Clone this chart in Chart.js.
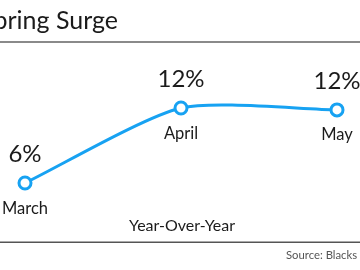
<!DOCTYPE html>
<html>
<head>
<meta charset="utf-8">
<script src="https://cdn.jsdelivr.net/npm/chart.js@4"></script>
<style>
html,body{margin:0;padding:0;background:#fff;overflow:hidden;}
canvas{display:block;}
</style>
</head>
<body>
<canvas id="c" width="360" height="270"></canvas>
<script>
const title = "Spring Surge";
const categories = ["March", "April", "May"];
const values = [6, 12, 11.85];
const valueLabels = ["6%", "12%", "12%"];
const axisNote = "Year-Over-Year";
const source = "Source: Blacks Research";

const ink = "#1b1b1b";
const blue = "#17a2f2";

const decor = {
  id: "decor",
  afterDatasetsDraw(chart) {
    const ctx = chart.ctx;
    const xs = chart.scales.x, ys = chart.scales.y;
    ctx.save();
    ctx.fillStyle = ink;
    ctx.font = "25px Lato";
    ctx.textAlign = "right";
    ctx.textBaseline = "alphabetic";
    ctx.fillText(title, 118, 28.5);
    ctx.fillStyle = "#8a8a8a";
    ctx.fillRect(0, 41, 360, 2);
    ctx.fillStyle = "#555";
    ctx.fillRect(0, 241.5, 360, 1.5);
    values.forEach((v, i) => {
      const x = xs.getPixelForValue(i);
      const y = ys.getPixelForValue(v);
      ctx.fillStyle = ink;
      ctx.textAlign = "center";
      ctx.font = "24px Lato";
      ctx.fillText(valueLabels[i], x, y - 21);
      ctx.font = "16.5px Lato";
      ctx.fillText(categories[i], x, y + 30.5);
    });
    ctx.font = "16px Lato";
    ctx.textAlign = "center";
    ctx.fillStyle = ink;
    ctx.fillText(axisNote, 182, 230.5);
    ctx.font = "11.3px Lato";
    ctx.textAlign = "left";
    ctx.fillStyle = "#555";
    ctx.fillText(source, 286, 259);
    ctx.restore();
  }
};

new Chart(document.getElementById("c"), {
  type: "line",
  data: {
    labels: categories,
    datasets: [{
      data: values,
      borderColor: blue,
      borderWidth: 3,
      tension: 0.22,
      pointRadius: 6,
      pointBorderWidth: 3,
      pointBackgroundColor: "#fff",
      pointBorderColor: blue,
      clip: false
    }]
  },
  options: {
    responsive: false,
    animation: false,
    events: [],
    layout: { padding: { left: 25, right: 23, top: 58, bottom: 12 } },
    plugins: { legend: { display: false }, tooltip: { enabled: false }, title: { display: false } },
    scales: {
      x: { type: "category", display: false, offset: false },
      y: { display: false, min: 0, max: 16 }
    }
  },
  plugins: [decor]
});
</script>
</body>
</html>
